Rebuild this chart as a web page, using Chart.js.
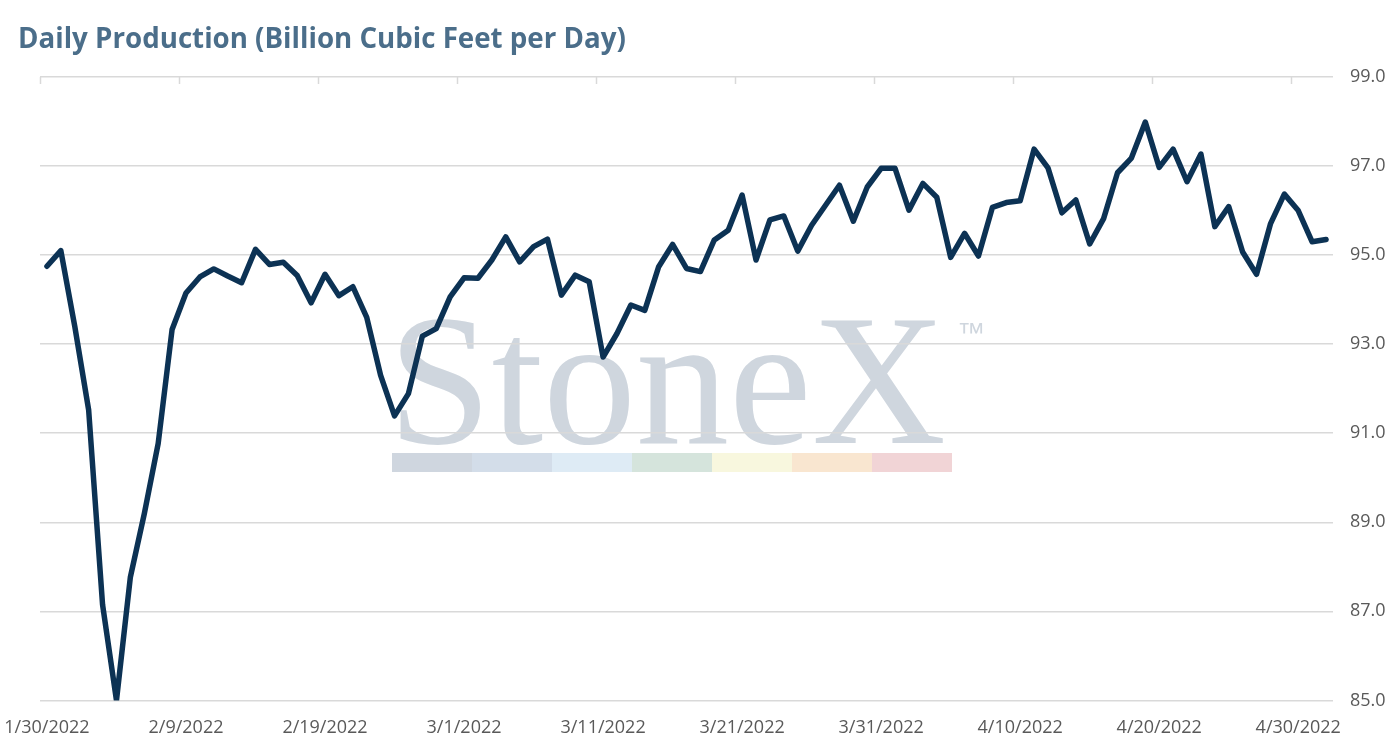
<!DOCTYPE html>
<html>
<head>
<meta charset="utf-8">
<title>Daily Production</title>
<script src="https://cdn.jsdelivr.net/npm/chart.js@4.4.1/dist/chart.umd.min.js"></script>
<style>
  html, body { margin: 0; padding: 0; background: #fff; }
  #wrap { position: relative; width: 1391px; height: 750px; }
  #title {
    position: absolute; left: 18px; top: 18px; margin: 0;
    font: 700 27.7px "Open Sans", sans-serif; color: #4b6e8a;
    white-space: nowrap;
  }
  canvas { position: absolute; left: 0; top: 0; }
</style>
</head>
<body>
<div id="wrap">
  <canvas id="chart" width="1391" height="750"></canvas>
  <h1 id="title">Daily Production (Billion Cubic Feet per Day)</h1>
</div>
<script>
// days on the axis, 1/30/2022 .. 5/2/2022
const dates = [
  '1/30/2022', '1/31/2022',
  '2/1/2022', '2/2/2022', '2/3/2022', '2/4/2022', '2/5/2022', '2/6/2022', '2/7/2022',
  '2/8/2022', '2/9/2022', '2/10/2022', '2/11/2022', '2/12/2022', '2/13/2022', '2/14/2022',
  '2/15/2022', '2/16/2022', '2/17/2022', '2/18/2022', '2/19/2022', '2/20/2022', '2/21/2022',
  '2/22/2022', '2/23/2022', '2/24/2022', '2/25/2022', '2/26/2022', '2/27/2022', '2/28/2022',
  '3/1/2022', '3/2/2022', '3/3/2022', '3/4/2022', '3/5/2022', '3/6/2022', '3/7/2022',
  '3/8/2022', '3/9/2022', '3/10/2022', '3/11/2022', '3/12/2022', '3/13/2022', '3/14/2022',
  '3/15/2022', '3/16/2022', '3/17/2022', '3/18/2022', '3/19/2022', '3/20/2022', '3/21/2022',
  '3/22/2022', '3/23/2022', '3/24/2022', '3/25/2022', '3/26/2022', '3/27/2022', '3/28/2022',
  '3/29/2022', '3/30/2022', '3/31/2022',
  '4/1/2022', '4/2/2022', '4/3/2022', '4/4/2022', '4/5/2022', '4/6/2022', '4/7/2022',
  '4/8/2022', '4/9/2022', '4/10/2022', '4/11/2022', '4/12/2022', '4/13/2022', '4/14/2022',
  '4/15/2022', '4/16/2022', '4/17/2022', '4/18/2022', '4/19/2022', '4/20/2022', '4/21/2022',
  '4/22/2022', '4/23/2022', '4/24/2022', '4/25/2022', '4/26/2022', '4/27/2022', '4/28/2022',
  '4/29/2022', '4/30/2022',
  '5/1/2022', '5/2/2022'
];

// Bcf/d
const production = [
  94.75, 95.10, 93.40, 91.52, 87.15, 85.00, 87.77, 89.19, 90.77, 93.33,
  94.15, 94.51, 94.69, 94.53, 94.38, 95.13, 94.79, 94.84, 94.54, 93.93,
  94.57, 94.09, 94.29, 93.60, 92.30, 91.39, 91.89, 93.18, 93.35, 94.06,
  94.49, 94.48, 94.89, 95.41, 94.85, 95.19, 95.36, 94.10, 94.55, 94.40,
  92.71, 93.24, 93.88, 93.76, 94.74, 95.24, 94.70, 94.63, 95.34, 95.56,
  96.35, 94.89, 95.79, 95.88, 95.09, 95.67, 96.12, 96.57, 95.76, 96.53,
  96.95, 96.95, 96.01, 96.61, 96.30, 94.95, 95.49, 94.98, 96.07, 96.18,
  96.22, 97.38, 96.96, 95.95, 96.24, 95.25, 95.82, 96.85, 97.18, 97.99,
  96.97, 97.38, 96.65, 97.27, 95.64, 96.09, 95.07, 94.57, 95.70, 96.37,
  96.00, 95.30, 95.35
];

// labelled days on the bottom axis
const tickLabels = [
  '1/30/2022', '2/9/2022', '2/19/2022', '3/1/2022', '3/11/2022',
  '3/21/2022', '3/31/2022', '4/10/2022', '4/20/2022', '4/30/2022'
];

const yTicks = [85, 87, 89, 91, 93, 95, 97, 99];

// watermark band colours
const bandColors = ['#cfd6df', '#d3dde9', '#deebf5', '#d5e4dc', '#f8f7de', '#f9e6d0', '#f1d4d6'];

const GRID = '#d9d9d9';
const AXIS_TEXT = '#595959';

// StoneX logo behind the grid
const watermark = {
  id: 'watermark',
  beforeDraw(chart) {
    const ctx = chart.ctx;
    ctx.save();
    ctx.fillStyle = '#cfd6de';
    ctx.textBaseline = 'alphabetic';
    ctx.font = '186px "Liberation Serif", serif';
    ctx.fillText('StoneX', 388, 443);
    ctx.font = '28px "Liberation Sans", sans-serif';
    ctx.fillText('\u2122', 957, 342);
    const w = 80;
    bandColors.forEach((c, i) => {
      ctx.fillStyle = c;
      ctx.fillRect(392 + i * w, 453, w, 19);
    });
    ctx.restore();
  }
};

// small tick marks hanging from the top edge at the labelled days
const topTicks = {
  id: 'topTicks',
  afterDraw(chart) {
    const x = chart.scales.x;
    const top = chart.chartArea.top;
    const half = (x.getPixelForValue(1) - x.getPixelForValue(0)) / 2;
    const ctx = chart.ctx;
    ctx.save();
    ctx.strokeStyle = GRID;
    ctx.lineWidth = 1.5;
    dates.forEach((d, i) => {
      if (!tickLabels.includes(d)) return;
      const px = Math.round(x.getPixelForValue(i) - half) + 0.5;
      ctx.beginPath();
      ctx.moveTo(px, top);
      ctx.lineTo(px, top + 7);
      ctx.stroke();
    });
    ctx.restore();
  }
};

new Chart(document.getElementById('chart'), {
  type: 'line',
  data: {
    labels: dates,
    datasets: [{
      data: production,
      borderColor: '#0c3254',
      borderWidth: 5.5,
      borderJoinStyle: 'round',
      borderCapStyle: 'round',
      pointRadius: 0,
      tension: 0,
      fill: false
    }]
  },
  options: {
    responsive: false,
    animation: false,
    layout: { padding: { left: 40, right: 0, top: 77, bottom: 11 } },
    plugins: {
      legend: { display: false },
      tooltip: { enabled: false }
    },
    scales: {
      x: {
        type: 'category',
        offset: true,
        grid: {
          display: true,
          drawOnChartArea: false,
          drawTicks: true,
          tickLength: 17,
          color: 'rgba(0,0,0,0)'
        },
        border: { display: false },
        ticks: {
          autoSkip: false,
          maxRotation: 0,
          padding: 0,
          color: AXIS_TEXT,
          font: { family: '"Open Sans", sans-serif', size: 18 },
          callback(v, i) {
            const d = dates[i];
            return tickLabels.includes(d) ? d : '';
          }
        }
      },
      y: {
        position: 'right',
        min: 85,
        max: 99,
        afterBuildTicks(scale) {
          scale.ticks = yTicks.map(v => ({ value: v }));
        },
        afterFit(scale) {
          scale.width = 58;
        },
        grid: { color: GRID, lineWidth: 1.5, drawTicks: false },
        border: { display: false },
        ticks: {
          padding: 17,
          color: AXIS_TEXT,
          font: { family: '"Open Sans", sans-serif', size: 18 },
          callback: v => v.toFixed(1)
        }
      }
    }
  },
  plugins: [watermark, topTicks]
});
</script>
</body>
</html>
